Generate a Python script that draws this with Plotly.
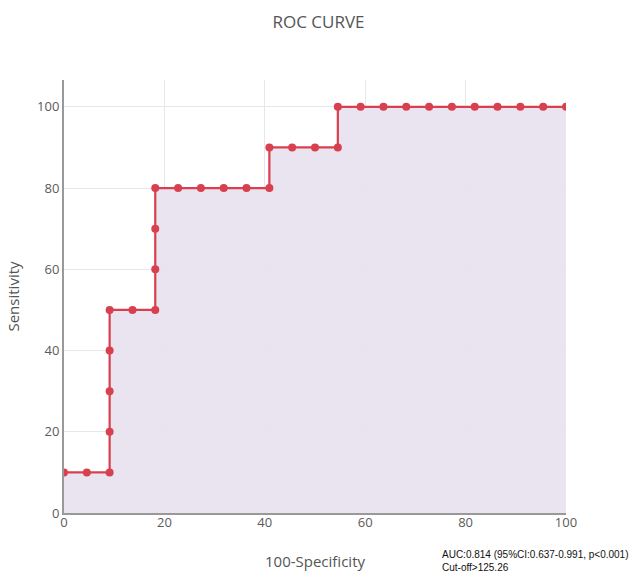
import plotly.graph_objects as go

# Data
specificity_complement = [0, 4.55, 9.09, 9.09, 9.09, 9.09, 9.09, 13.64, 18.18, 18.18, 18.18, 18.18,
                          22.73, 27.27, 31.82, 36.36, 40.91, 40.91, 45.45, 50.0, 54.55, 54.55,
                          59.09, 63.64, 68.18, 72.73, 77.27, 81.82, 86.36, 90.91, 95.45, 100]
sensitivity = [10, 10, 10, 20, 30, 40, 50, 50, 50, 60, 70, 80,
               80, 80, 80, 80, 80, 90, 90, 90, 90, 100,
               100, 100, 100, 100, 100, 100, 100, 100, 100, 100]
x_ticks = [0, 20, 40, 60, 80, 100]
y_ticks = [0, 20, 40, 60, 80, 100]

fig = go.Figure()
fig.add_trace(go.Scatter(
    x=specificity_complement, y=sensitivity,
    mode="lines+markers",
    fill="tozeroy",
    fillcolor="rgba(233,225,239,0.95)",
    line=dict(color="#d9404f", width=2.2),
    marker=dict(color="#d9404f", size=8),
    showlegend=False,
    cliponaxis=True,
))

fig.update_layout(
    width=637, height=573,
    margin=dict(l=64, r=71, t=80, b=60, autoexpand=False),
    paper_bgcolor="white", plot_bgcolor="white",
    font=dict(family="Open Sans", color="#555"),
    title=dict(text="ROC CURVE", x=0.5, xanchor="center", y=0.962, yanchor="middle",
               font=dict(size=17, color="#555"), automargin=False),
    xaxis=dict(range=[0, 100], tickvals=x_ticks, showgrid=True, gridcolor="#e8e6ec",
               zeroline=False, showline=True, linecolor="#999", linewidth=2,
               automargin=False,
               tickfont=dict(size=13, color="#5a5a5a"), ticklabelstandoff=-4,
               title=dict(text="100-Specificity", font=dict(size=15, color="#555"), standoff=27)),
    yaxis=dict(range=[0, 106.6], tickvals=y_ticks, showgrid=True, gridcolor="#e8e6ec",
               zeroline=False, showline=True, linecolor="#999", linewidth=2,
               automargin=False,
               tickfont=dict(size=13, color="#5a5a5a"), ticklabelstandoff=0,
               title=dict(text="Sensitivity", font=dict(size=15, color="#555"), standoff=14)),
    annotations=[dict(
        text="AUC:0.814 (95%CI:0.637-0.991, p<0.001)<br>Cut-off>125.26",
        xref="paper", yref="paper", x=0.749, y=-0.078, xanchor="left", yanchor="top",
        showarrow=False, align="left",
        font=dict(family="Liberation Sans", size=10, color="#111"),
    )],
)

fig.write_html(
    "out.html",
    config={"displayModeBar": False},
    post_script="document.body.style.margin='0';document.body.style.padding='0';"
                "document.body.style.overflow='hidden';",
)
